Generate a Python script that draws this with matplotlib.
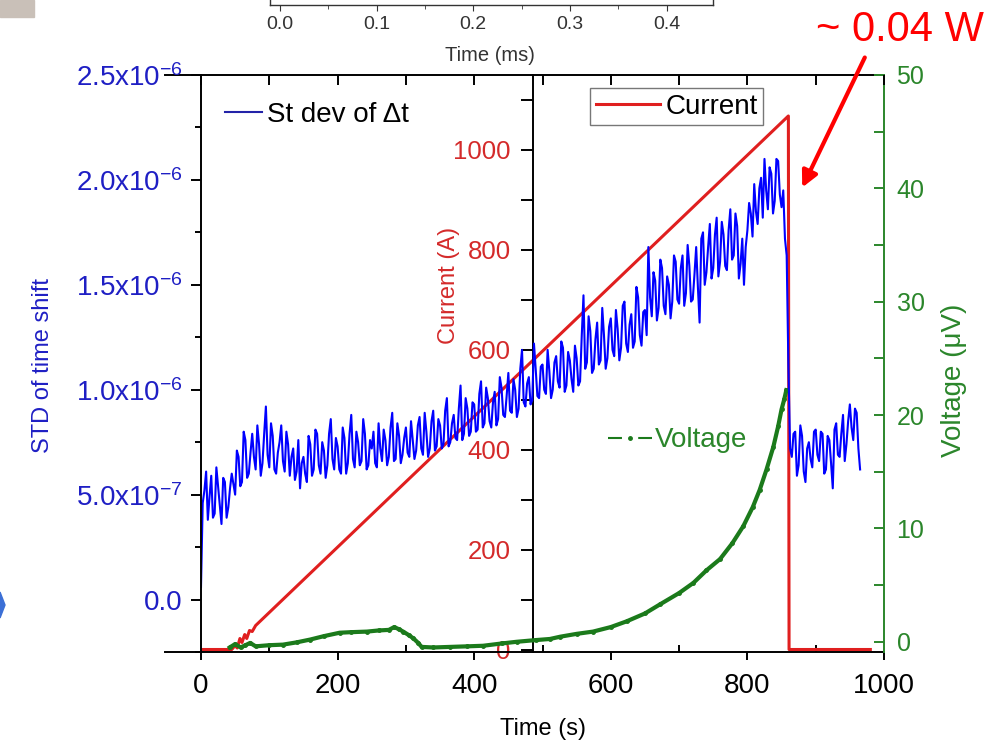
import numpy as np
import matplotlib.pyplot as plt
from matplotlib.lines import Line2D
from matplotlib.patches import FancyArrowPatch, Rectangle, Polygon
from matplotlib.ticker import MultipleLocator

plt.rcParams['font.family'] = ['Liberation Sans', 'DejaVu Sans']
plt.rcParams['mathtext.fontset'] = 'custom'
plt.rcParams['mathtext.rm'] = 'Liberation Sans'
plt.rcParams['mathtext.it'] = 'Liberation Sans:italic'

BLUE = '#0000ff'
BLUE_TXT = '#1f1fc4'
RED = '#e01f1f'
RED_TXT = '#d42a2a'
GREEN = '#1b7a1b'
GREEN_TXT = '#2b862b'

# St dev of time shift (units of 1e-7 s)
# samples at t = 0, 5, 10, ... s
std_vals_a = [
    0.6, 5.2, 3.8, 5.9, 4.1, 5.4, 3.6, 5.6, 4.4, 6.0,
    5.0, 6.8, 5.6, 7.6, 6.0, 7.9, 6.2, 7.4, 6.5, 9.2,
    6.3, 7.8, 6.0, 7.5, 6.6, 8.0, 5.9, 7.2, 6.1, 5.3,
    6.8, 5.6, 7.4, 6.2, 7.9, 6.0, 7.1, 6.4, 8.6, 6.2,
    7.3, 6.0, 7.7, 6.5, 8.8, 6.3, 7.5, 6.6, 7.9, 6.4,
    7.2, 6.5, 8.4, 6.6, 7.6, 6.8, 8.9, 6.7, 7.8, 6.9,
    8.2, 6.8, 7.6, 7.1, 8.7, 6.9, 8.0, 7.2, 9.0, 7.3,
    8.3, 7.4, 9.6, 7.5, 8.8, 7.6, 10.2, 7.9, 9.1, 8.0,
    9.3, 8.1, 10.4, 8.4, 9.6, 8.2, 9.9, 8.6, 10.1, 8.7,
    10.8, 8.9, 10.0, 9.1, 11.9, 9.2, 10.6, 9.5, 11.0, 9.6,
    11.2, 9.8, 10.9, 10.0, 11.6, 10.1, 12.0, 10.2, 11.4, 9.9,
    11.5, 10.4, 14.5, 11.3, 12.8, 11.0, 13.2, 11.4, 12.6, 11.5,
    13.4, 11.6, 12.9, 12.0, 14.2, 11.8, 13.6, 12.3, 14.4, 12.1,
    13.8, 16.8, 13.5, 15.2, 13.9, 15.8, 13.6, 15.0, 14.2, 16.1,
    14.1, 16.4, 14.6, 15.9, 14.3, 16.8, 13.2, 17.5, 15.6, 17.9,
    15.8, 18.2, 16.1, 17.4, 15.7, 18.6, 16.4, 17.8, 16.0, 15.0,
    17.6, 18.4, 19.8, 17.9, 20.1, 21.0, 18.6, 20.3, 19.0, 20.9,
    18.7, 17.2, 11.2, 6.8, 8.0, 6.4, 7.8, 5.6, 7.5, 6.3,
    8.1, 6.6, 7.9, 6.2, 7.6, 5.3, 8.4, 6.8, 8.8, 7.4,
    9.3, 7.6, 8.9, 6.2,
]
# samples at t = 2.5, 7.5, 12.5, ... s
std_vals_b = [
    4.6, 6.1, 4.9, 3.9, 6.3, 4.5, 5.8, 3.9, 5.3, 5.5,
    7.1, 5.4, 8.0, 5.8, 7.0, 6.8, 8.3, 5.9, 7.9, 6.9,
    8.4, 6.2, 7.0, 8.3, 6.1, 7.4, 6.8, 5.7, 7.6, 6.5,
    6.0, 7.8, 5.9, 8.1, 6.4, 7.5, 5.8, 7.9, 6.7, 7.7,
    6.2, 8.2, 6.0, 7.9, 6.7, 8.0, 6.4, 8.6, 6.2, 7.6,
    8.0, 6.3, 7.2, 8.1, 6.4, 8.2, 6.6, 8.4, 6.5, 7.7,
    7.0, 8.5, 6.7, 8.3, 7.2, 8.9, 6.8, 8.5, 7.1, 8.6,
    7.2, 9.0, 7.3, 8.4, 7.7, 9.1, 7.6, 9.6, 7.8, 9.4,
    8.0, 9.8, 8.2, 10.1, 8.5, 9.4, 8.3, 10.6, 8.8, 9.7,
    9.0, 10.5, 8.7, 11.0, 9.4, 10.3, 9.3, 12.2, 9.7, 11.1,
    10.0, 11.9, 9.6, 11.3, 10.4, 12.3, 9.9, 11.8, 10.5, 12.1,
    10.2, 12.6, 11.0, 13.5, 10.8, 12.4, 11.2, 13.9, 11.0, 13.0,
    11.9, 13.8, 11.4, 14.0, 12.2, 13.1, 12.0, 14.9, 12.6, 13.7,
    12.6, 14.4, 15.6, 13.3, 16.2, 14.0, 15.4, 13.4, 16.4, 14.3,
    15.8, 14.0, 16.9, 14.2, 15.5, 14.9, 17.2, 15.0, 16.8, 15.3,
    17.4, 15.4, 18.0, 15.9, 17.6, 16.2, 18.4, 15.3, 17.2, 16.8,
    18.9, 17.3, 18.5, 19.6, 18.2, 19.5, 20.6, 18.4, 21.0, 19.3,
    19.5, 16.4, 7.2, 7.9, 5.9, 8.3, 6.1, 7.2, 6.7, 8.0,
    6.9, 8.0, 6.0, 7.8, 6.5, 8.1, 6.9, 7.9, 6.6, 8.5,
    8.2, 9.1, 7.2,
]

# Current ramp (A)
cur_t = [0, 45, 50, 53, 57, 60, 64, 67, 71, 75, 80, 860, 861, 980]
cur_a = [0, 0, 8, 3, 22, 14, 30, 22, 38, 36, 48, 1068, 0, 0]

# Voltage (uV)
volt_t = [42, 50, 58, 65, 72, 80, 100, 120, 140, 160, 180, 203, 220, 243, 260,
          275, 283, 290, 296, 304, 311, 318, 323, 340, 365, 390, 413, 440, 462,
          490, 511, 526, 550, 574, 600, 623, 650, 672, 700, 721, 740, 760, 778,
          794, 808, 818, 828, 838, 845, 850, 854, 857]
volt_v = [-0.5, -0.2, -0.5, -0.3, -0.1, -0.4, -0.3, -0.25, -0.05, 0.2, 0.5, 0.8,
          0.85, 0.9, 1.0, 1.05, 1.3, 1.1, 0.9, 0.6, 0.3, -0.1, -0.45, -0.5, -0.45,
          -0.4, -0.35, -0.15, 0.0, 0.15, 0.25, 0.45, 0.7, 0.9, 1.3, 1.8, 2.5, 3.3,
          4.3, 5.2, 6.3, 7.3, 8.7, 10.2, 11.9, 13.4, 15.2, 17.2, 19.0, 20.5, 21.4,
          22.2]

x_ticks = [0, 200, 400, 600, 800, 1000]
std_ticks = [0.0, 0.5e-6, 1.0e-6, 1.5e-6, 2.0e-6, 2.5e-6]
std_labels = ['0.0', '5.0x10$^{-7}$', '1.0x10$^{-6}$', '1.5x10$^{-6}$',
              '2.0x10$^{-6}$', '2.5x10$^{-6}$']
cur_ticks = [0, 200, 400, 600, 800, 1000]
volt_ticks = [0, 10, 20, 30, 40, 50]
inset_ticks = [0.0, 0.1, 0.2, 0.3, 0.4]

# merge the two sample sets in time order
t_a = np.arange(len(std_vals_a)) * 5.0
t_b = np.arange(len(std_vals_b)) * 5.0 + 2.5
std_t = np.concatenate([t_a, t_b])
std_y = np.concatenate([std_vals_a, std_vals_b]) * 1e-7
order = np.argsort(std_t)
std_t, std_y = std_t[order], std_y[order]

fig = plt.figure(figsize=(9.96, 7.48), dpi=100)
rect = [201 / 996, 1 - 652 / 748, 683 / 996, 577 / 748]

ax_c = fig.add_axes(rect)
ax_v = fig.add_axes(rect, sharex=ax_c)
ax_s = fig.add_axes(rect, sharex=ax_c)
for a in (ax_v, ax_s):
    a.patch.set_visible(False)

# current (red), middle axis
ax_c.plot(cur_t, cur_a, color=RED, lw=2.2, label='Current')
ax_c.set_xlim(0, 1000)
ax_c.set_ylim(-5, 1150)
ax_c.set_xticks(x_ticks)
ax_c.xaxis.set_minor_locator(MultipleLocator(100))
ax_c.set_yticks(cur_ticks)
ax_c.yaxis.set_minor_locator(MultipleLocator(100))
ax_c.spines['right'].set_visible(False)
ax_c.spines['left'].set_position(('axes', 0.486))
for s in ax_c.spines.values():
    s.set_linewidth(1.4)
ax_c.tick_params(axis='x', which='major', direction='out', length=6, width=1.4,
                 labelsize=20, pad=9, top=False)
ax_c.tick_params(axis='x', which='minor', direction='in', length=5, width=1.4, top=False)
ax_c.tick_params(axis='y', which='both', direction='out', length=9, width=1.4,
                 labelsize=18.5, labelcolor=RED_TXT, pad=7)
ax_c.set_xlabel('Time (s)', fontsize=17)
ax_c.xaxis.set_label_coords(0.5, -0.114)
ax_c.set_ylabel('Current (A)', fontsize=17, color=RED_TXT)
ax_c.yaxis.set_label_coords(0.379, 0.636)
ax_c.legend(loc='center left', bbox_to_anchor=(0.570, 0.945), fontsize=20,
            frameon=True, fancybox=False, edgecolor='#777777', framealpha=1,
            borderaxespad=0, borderpad=0.2, handlelength=2.3, handletextpad=0.2)
# extended horizontal lines at left
for yy in (0, 1):
    ax_c.plot([-0.053, 0], [yy, yy], transform=ax_c.transAxes, color='black',
              lw=1.4, clip_on=False)

# voltage (green), right axis
ax_v.plot(volt_t, volt_v, color=GREEN, lw=3, marker='o', ms=2.5)
ax_v.set_ylim(-0.9, 50)
ax_v.set_yticks(volt_ticks)
ax_v.yaxis.set_minor_locator(MultipleLocator(5))
ax_v.yaxis.tick_right()
ax_v.yaxis.set_label_position('right')
for k in ('left', 'top', 'bottom'):
    ax_v.spines[k].set_visible(False)
ax_v.spines['right'].set_color(GREEN_TXT)
ax_v.spines['right'].set_linewidth(1.4)
ax_v.tick_params(axis='x', which='both', bottom=False, top=False,
                 labelbottom=False, labeltop=False)
ax_v.tick_params(axis='y', which='both', direction='in', length=7.5, width=1.4,
                 color=GREEN_TXT, labelsize=18, labelcolor=GREEN_TXT, pad=9)
ax_v.set_ylabel('Voltage (\u03bcV)', fontsize=20, color=GREEN_TXT)
ax_v.yaxis.set_label_coords(1.083, 0.471)
v_handle = Line2D([], [], color=GREEN, lw=1.5, ls=(0, (6.7, 7.8)), marker='o', ms=2.5)
ax_v.legend([v_handle], ['Voltage'], loc='center left', bbox_to_anchor=(0.596, 0.367),
            fontsize=20, frameon=False, borderaxespad=0, borderpad=0,
            handlelength=1.58, handletextpad=0.12, numpoints=1, labelcolor=GREEN_TXT)

# std of time shift (blue), left axis
ax_s.plot(std_t, std_y, color=BLUE, lw=1.5)
ax_s.set_ylim(-0.25e-6, 2.5e-6)
ax_s.set_yticks(std_ticks, std_labels)
ax_s.yaxis.set_minor_locator(MultipleLocator(0.25e-6))
for k in ('right', 'top', 'bottom'):
    ax_s.spines[k].set_visible(False)
ax_s.spines['left'].set_linewidth(1.4)
ax_s.tick_params(axis='x', which='both', bottom=False, top=True, labelbottom=False,
                 labeltop=False, direction='in', length=7, width=1.4)
ax_s.tick_params(axis='y', which='major', direction='out', length=7, width=1.4,
                 labelsize=20, labelcolor=BLUE_TXT, pad=6)
ax_s.tick_params(axis='y', which='minor', direction='out', length=4, width=1.4)
ax_s.set_ylabel('STD of time shift', fontsize=17, color=BLUE_TXT)
ax_s.yaxis.set_label_coords(-0.215, 0.497)
s_handle = Line2D([], [], color='#2323a8', lw=1.5)
ax_s.legend([s_handle], ['St dev of \u0394t'], loc='center left',
            bbox_to_anchor=(0.035, 0.931), fontsize=20, frameon=False,
            borderaxespad=0, borderpad=0, handlelength=1.33, handletextpad=0.18)

# partial inset from the figure above
ax_in = fig.add_axes([270 / 996, 1 - 5 / 748, 443 / 996, 0.3])
ax_in.set_xlim(-0.0103, 0.448)
ax_in.set_xticks(inset_ticks, ['%.1f' % v for v in inset_ticks])
ax_in.xaxis.set_minor_locator(MultipleLocator(0.05))
ax_in.set_yticks([])
for s in ax_in.spines.values():
    s.set_linewidth(1.0)
    s.set_color('#333333')
ax_in.tick_params(axis='x', which='major', direction='out', length=4, labelsize=14,
                  labelcolor='#333333', color='#333333', pad=4)
ax_in.tick_params(axis='x', which='minor', direction='out', length=3, color='#333333')
ax_in.set_xlabel('Time (ms)', fontsize=14.5, color='#333333')
ax_in.xaxis.set_label_coords(0.497, -0.183)

# annotation
fig.text(0.904, 1 - 30 / 748, '~ 0.04 W', color='#ff0000', fontsize=30,
         ha='center', va='center')
fig.add_artist(FancyArrowPatch((866 / 996, 1 - 55 / 748), (801 / 996, 1 - 190 / 748),
                               transform=fig.transFigure, arrowstyle='-|>',
                               mutation_scale=24, lw=3, color='#ff0000'))

# slide fragments
fig.add_artist(Rectangle((0, 1 - 17 / 748), 34 / 996, 17 / 748,
                         transform=fig.transFigure, color='#c9c0b8'))
fig.add_artist(Polygon([(0, 1 - 592 / 748), (5 / 996, 1 - 605 / 748), (0, 1 - 618 / 748)],
                       closed=True, transform=fig.transFigure, color='#3b6fd6'))

fig.savefig('out.png', dpi=100)
